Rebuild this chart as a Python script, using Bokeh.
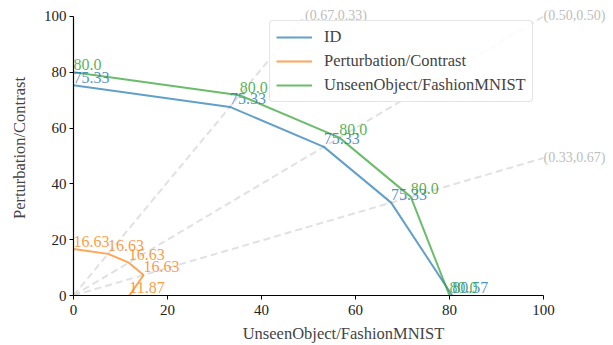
import numpy as np
from bokeh.plotting import figure
from bokeh.models import ColumnDataSource, Legend, LegendItem, Range1d, FixedTicker
from bokeh.core.properties import value
from bokeh.embed import file_html
from bokeh.resources import INLINE

# weights (w_perturb, w_unseen) for each ray
weights = [(1.0, 0.0), (0.67, 0.33), (0.50, 0.50), (0.33, 0.67), (0.0, 1.0)]
ray_labels = ["(0.67,0.33)", "(0.50,0.50)", "(0.33,0.67)"]
series_names = ["ID", "Perturbation/Contrast", "UnseenObject/FashionMNIST"]
id_vals = [75.33, 75.33, 75.33, 75.33, 80.57]
pert_vals = [16.63, 16.63, 16.63, 16.63, 11.87]
unseen_vals = [80.0, 80.0, 80.0, 80.0, 80.0]
colors = ["#1f77b4", "#ff7f0e", "#2ca02c"]
x_ticks = [0, 20, 40, 60, 80, 100]
y_ticks = [0, 20, 40, 60, 80, 100]

FONT = "Liberation Serif"

W, H = 613, 345
L, R, T, B = 73, 543, 16, 296          # axes box in pixels
XEND = 100 * (W - L) / (R - L)         # extend frame so labels outside the axes are not clipped
YEND = 100 * (B - 0) / (B - T)

p = figure(width=W, height=H, output_backend="svg", toolbar_location=None,
           x_range=Range1d(0, XEND), y_range=Range1d(0, YEND),
           min_border_left=L, min_border_right=0, min_border_top=0, min_border_bottom=H - B)
p.xgrid.visible = False
p.ygrid.visible = False
p.outline_line_color = None
p.background_fill_color = "white"
p.border_fill_color = "white"

def unit_dir(w):
    a, b = w
    n = np.hypot(a, b)
    return b / n, a / n

# rays
rx, ry, rt = [], [], []
for w, lab in zip(weights[1:4], ray_labels):
    dx, dy = unit_dir(w)
    s = 100.0 / max(dx, dy)
    ex, ey = dx * s, dy * s
    p.line([0, ex], [0, ey], line_color="#d9d9d9", line_width=2, line_dash="7 4", line_alpha=0.8)
    rx.append(ex); ry.append(ey); rt.append(lab)
p.text(x=rx, y=ry, text=rt, text_font=value(FONT), text_font_size="14px",
       text_color="#bdbdbd", text_align="left", text_baseline="alphabetic", y_offset=-1)

renderers = []
all_vals = [id_vals, pert_vals, unseen_vals]
for vals, c in zip(all_vals, colors):
    xs, ys = [], []
    for w, v in zip(weights, vals):
        dx, dy = unit_dir(w)
        xs.append(v * dx)
        ys.append(v * dy)
    r = p.line(xs, ys, line_color=c, line_width=2, line_alpha=0.7)
    renderers.append((r, xs, ys, vals, c))

for r, xs, ys, vals, c in renderers:
    src = ColumnDataSource(dict(x=xs, y=ys, t=[f"{v}" for v in vals]))
    p.text("x", "y", text="t", source=src, text_font=value(FONT), text_font_size="16px",
           text_color=c, text_alpha=0.8, text_align="left", text_baseline="alphabetic", y_offset=-8)

legend = Legend(items=[LegendItem(label=n, renderers=[rr[0]]) for n, rr in zip(series_names, renderers)],
                location=(196, 193))
legend.label_text_font = FONT
legend.label_text_font_size = "16.5px"
legend.glyph_width = 36
legend.glyph_height = 20
legend.label_height = 20
legend.spacing = 4
legend.padding = 6
legend.margin = 0
legend.label_standoff = 12
legend.border_line_color = "#cccccc"
legend.border_line_width = 1
legend.background_fill_alpha = 0.85
legend.border_radius = 4
p.add_layout(legend)

for ax, label, ticks in [(p.xaxis, "UnseenObject/FashionMNIST", x_ticks), (p.yaxis, "Perturbation/Contrast", y_ticks)]:
    ax.ticker = FixedTicker(ticks=ticks)
    ax.bounds = (0, 100)
    ax.axis_label = label
    ax.axis_label_text_font = FONT
    ax.axis_label_text_font_style = "normal"
    ax.axis_label_text_font_size = "16.5px"
    ax.major_label_text_font = FONT
    ax.major_label_text_font_size = "15px"
    ax.major_label_text_color = "#222222"
    ax.axis_line_color = "black"
    ax.axis_line_width = 1.2
    ax.major_tick_line_color = "black"
    ax.major_tick_out = 4
    ax.major_tick_in = 0
    ax.minor_tick_line_color = None
p.xaxis.major_label_standoff = 5
p.yaxis.major_label_standoff = 3
p.xaxis.axis_label_standoff = 6
p.yaxis.axis_label_standoff = 12

open("out.html", "w").write(file_html(p, INLINE))
